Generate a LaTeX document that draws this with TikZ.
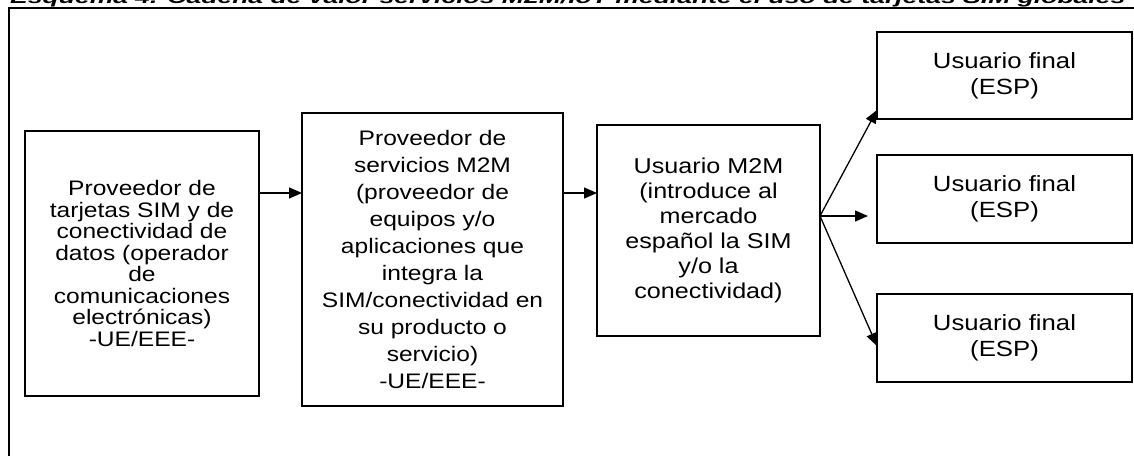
\documentclass[tikz,border=0pt]{standalone}
\usepackage{fontspec}
\usepackage{graphicx}
\setmainfont{Liberation Sans}
\newfontfamily\boxfont{Liberation Sans}[FakeStretch=1.17]
\usetikzlibrary{arrows.meta,calc}
\tikzset{
  box/.style={draw, line width=1.6pt, inner sep=0pt, outer sep=0pt, align=center},
  fA/.style={font=\boxfont\fontsize{21}{21.5}\selectfont},
  fB/.style={font=\boxfont\fontsize{21}{27}\selectfont},
  fC/.style={font=\boxfont\fontsize{21.5}{25}\selectfont},
  fR/.style={font=\boxfont\fontsize{22}{26}\selectfont},
  arr/.style={line width=1.3pt, -{Triangle[length=13pt,width=11pt]}},
  frame/.style={line width=2pt}
}
\begin{document}
\begin{tikzpicture}[x=1pt,y=-1pt]
\useasboundingbox (0,0) rectangle (1134,455);
\begin{scope}
\clip (0,0) rectangle (1134,455);
\fill[white] (0,0) rectangle (1134,455);
\node[anchor=base west, inner sep=0pt] (title) at (10,4)
  {\resizebox{1115pt}{\height}{\fontsize{17}{20}\selectfont\bfseries\itshape Esquema 4. Cadena de valor servicios M2M/IoT mediante el uso de tarjetas SIM globales}};
\draw[frame] (9,470) -- (9,8) -- (1150,8);

\node[box, fA, minimum width=234pt, minimum height=265pt] (A) at (142,263.5)
  {Proveedor de\\tarjetas SIM y de\\conectividad de\\datos (operador\\de\\comunicaciones\\electrónicas)\\-UE/EEE-};
\node[box, fB, minimum width=261pt, minimum height=293pt] (B) at (432.5,259.5)
  {Proveedor de\\servicios M2M\\(proveedor de\\equipos y/o\\aplicaciones que\\integra la\\SIM/conectividad en\\su producto o\\servicio)\\-UE/EEE-};
\node[box, fC, minimum width=223pt, minimum height=211pt] (C) at (708.5,230.5)
  {Usuario M2M\\(introduce al\\mercado\\español la SIM\\y/o la\\conectividad)};
\node[box, fR, minimum width=255pt, minimum height=87pt] (R1) at (1004.5,75.5) {Usuario final\\(ESP)};
\node[box, fR, minimum width=255pt, minimum height=88pt] (R2) at (1004.5,199) {Usuario final\\(ESP)};
\node[box, fR, minimum width=255pt, minimum height=88pt] (R3) at (1004.5,338) {Usuario final\\(ESP)};

\coordinate (ab) at (0,193);
\coordinate (fan) at ($(C.east)+(0,-14.5)$);
\coordinate (t1) at ($(R1.south west)+(0,-9)$);
\coordinate (t2) at ($(R2.west |- fan)+(-9,0)$);
\coordinate (t3) at ($(R3.north west)+(0,52)$);

\draw[arr] (A.east |- ab) -- (B.west |- ab);
\draw[arr] (B.east |- ab) -- (C.west |- ab);
\draw[arr] (fan) -- (t1);
\draw[arr] (fan) -- (t2);
\draw[arr] (fan) -- (t3);
\end{scope}
\end{tikzpicture}
\end{document}
